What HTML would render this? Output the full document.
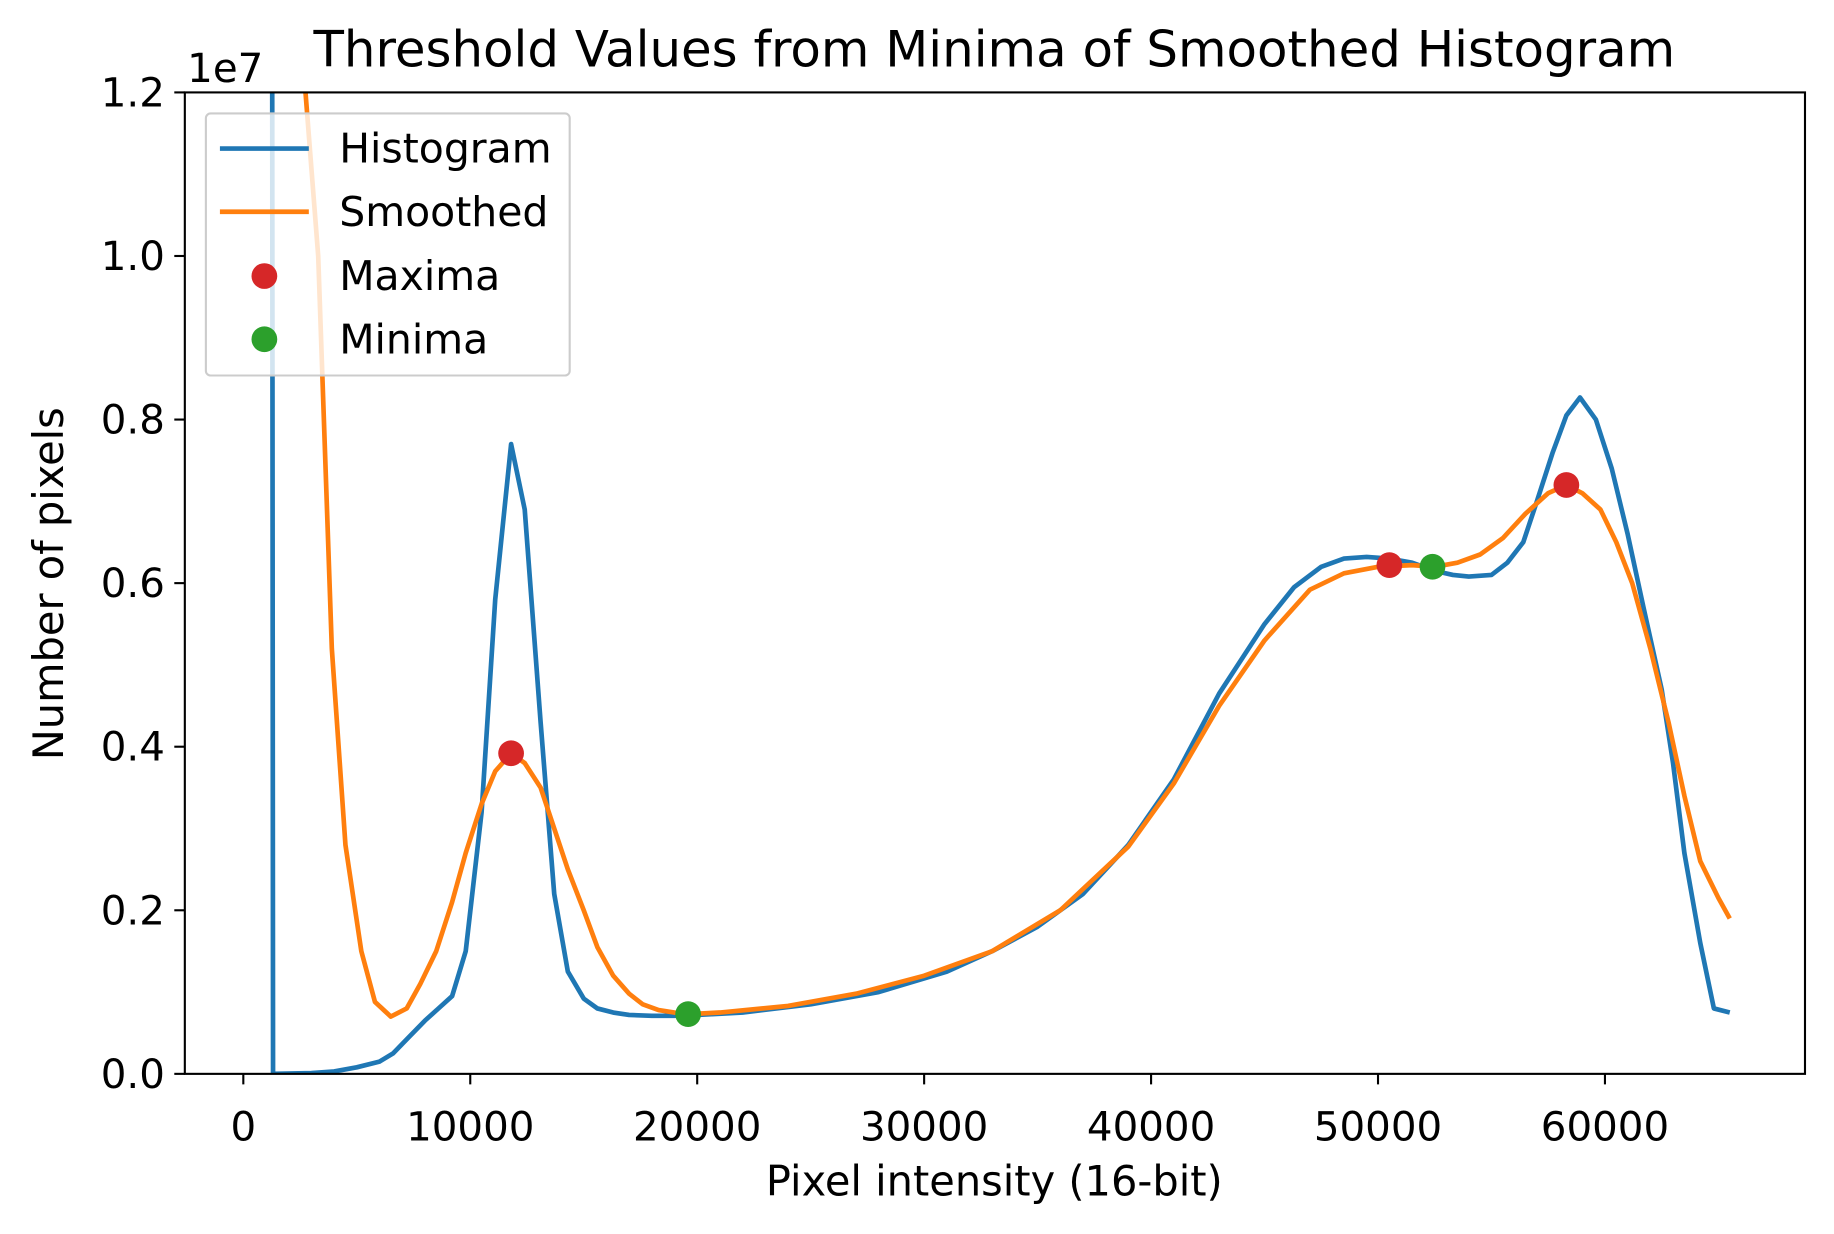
<!DOCTYPE html>
<html><head><meta charset="utf-8"><style>html,body{margin:0;padding:0;background:#fff}svg{display:block}text{font-family:"DejaVu Sans","Liberation Sans",sans-serif;fill:#000}</style></head>
<body>
<svg id="chart" width="1834" height="1234" viewBox="0 0 1567.8 1054.9" preserveAspectRatio="none" xmlns="http://www.w3.org/2000/svg">
<defs><clipPath id="clip"><rect x="158" y="79" width="1385" height="839"/></clipPath></defs>
<rect x="0" y="0" width="1570" height="1056" fill="#fff"/>
<text x="850" y="57" font-size="42.6" text-anchor="middle">Threshold Values from Minima of Smoothed Histogram</text>
<g id="xticks"></g>
<g id="yticks"></g>
<text x="160" y="70" font-size="34.5">1e7</text>
<text x="850" y="1022" font-size="35.5" text-anchor="middle">Pixel intensity (16-bit)</text>
<text transform="translate(54,499) rotate(-90)" font-size="35.5" text-anchor="middle">Number of pixels</text>
<g id="plot" clip-path="url(#clip)"></g>
<rect x="158" y="79" width="1385" height="839" fill="none" stroke="#000" stroke-width="1.8"/>
<g>
<rect x="176" y="97" width="311" height="224" rx="4" fill="#fff" fill-opacity="0.8" stroke="#ccc" stroke-width="1.8"/>
<line x1="188" y1="127" x2="264" y2="127" stroke="#1f77b4" stroke-width="4"/>
<text x="290" y="139" font-size="35">Histogram</text>
<line x1="188" y1="181" x2="264" y2="181" stroke="#ff7f0e" stroke-width="4"/>
<text x="290" y="193" font-size="35">Smoothed</text>
<circle cx="226" cy="236" r="11" fill="#d62728"/>
<text x="290" y="248" font-size="35">Maxima</text>
<circle cx="226" cy="290" r="11" fill="#2ca02c"/>
<text x="290" y="302" font-size="35">Minima</text>
</g>
</svg>
<script>
const histX=[1250,1310,3000,4000,5000,6000,6600,7300,8000,8600,9200,9800,10500,11100,11800,12400,13100,13700,14300,15000,15600,16300,17000,18000,19000,20000,22000,25000,28000,31000,33000,35000,37000,39000,41000,43000,45000,46300,47500,48500,49500,50500,51500,52500,53300,54000,55000,55700,56400,57000,57700,58300,58900,59600,60300,61000,61700,62500,63000,63500,64200,64800,65500];
const histY=[20,0,0.01,0.03,0.08,0.15,0.25,0.45,0.65,0.8,0.95,1.5,3.2,5.8,7.7,6.9,4.3,2.2,1.25,0.92,0.8,0.75,0.72,0.71,0.71,0.72,0.75,0.85,1.0,1.25,1.5,1.8,2.2,2.8,3.6,4.65,5.5,5.95,6.2,6.3,6.32,6.3,6.25,6.15,6.1,6.08,6.1,6.25,6.5,7.0,7.6,8.05,8.27,8.0,7.4,6.6,5.7,4.7,3.8,2.7,1.6,0.8,0.75];
const smX=[2600,3300,3900,4500,5200,5800,6500,7200,7800,8500,9200,9800,10500,11100,11800,12400,13100,13700,14300,15000,15600,16300,17000,17600,18300,19000,19600,21000,24000,27000,30000,33000,36000,39000,41000,43000,45000,47000,48500,50000,51500,52500,53500,54500,55500,56500,57500,58300,59000,59800,60500,61200,62000,62800,63500,64200,65000,65500];
const smY=[12.5,10,5.2,2.8,1.5,0.88,0.7,0.8,1.1,1.5,2.1,2.7,3.3,3.7,3.92,3.8,3.5,3.0,2.5,2.0,1.55,1.2,0.98,0.85,0.78,0.75,0.73,0.75,0.83,0.98,1.2,1.5,2.0,2.78,3.55,4.5,5.3,5.92,6.12,6.2,6.22,6.2,6.25,6.35,6.55,6.85,7.1,7.2,7.1,6.9,6.5,6.0,5.2,4.3,3.4,2.6,2.15,1.9];
const maxX=[11800,50500,58300];
const maxY=[3.92,6.22,7.2];
const minX=[19600,52400];
const minY=[0.73,6.2];
const xTicks=[0,10000,20000,30000,40000,50000,60000];
const yTicks=[0,2,4,6,8,10,12];
const yTickLabels=["0.0","0.2","0.4","0.6","0.8","1.0","1.2"];
const NS="http://www.w3.org/2000/svg";
const sx=v=>208+v*(1372-208)/60000;
const sy=v=>918-v*(918-79)/12;
function mk(tag,attrs,parent){const e=document.createElementNS(NS,tag);for(const k in attrs)e.setAttribute(k,attrs[k]);parent.appendChild(e);return e;}
const plot=document.getElementById('plot');
const hp=mk('polyline',{points:histX.map((x,i)=>sx(x)+','+sy(histY[i])).join(' '),fill:'none',stroke:'#1f77b4','stroke-width':4,'stroke-linejoin':'round'},plot);


const sp=mk('polyline',{points:smX.map((x,i)=>sx(x)+','+sy(smY[i])).join(' '),fill:'none',stroke:'#ff7f0e','stroke-width':4,'stroke-linejoin':'round'},plot);


maxX.forEach((x,i)=>{const c=mk('circle',{cx:sx(x),cy:sy(maxY[i]),r:11,fill:'#d62728'},plot);

});
minX.forEach((x,i)=>{const c=mk('circle',{cx:sx(x),cy:sy(minY[i]),r:11,fill:'#2ca02c'},plot);

});
const xg=document.getElementById('xticks');
xTicks.forEach(t=>{const l=mk('line',{x1:sx(t),x2:sx(t),y1:918,y2:927,stroke:'#000','stroke-width':1.8},xg);


const tx=mk('text',{x:sx(t),y:975,'font-size':34.5,'text-anchor':'middle'},xg);tx.textContent=String(t);

});
const yg=document.getElementById('yticks');
yTicks.forEach((t,i)=>{const l=mk('line',{x1:149,x2:158,y1:sy(t),y2:sy(t),stroke:'#000','stroke-width':1.8},yg);


const tx=mk('text',{x:141,y:sy(t)+12,'font-size':34.5,'text-anchor':'end'},yg);tx.textContent=yTickLabels[i];

});
</script>
</body></html>
